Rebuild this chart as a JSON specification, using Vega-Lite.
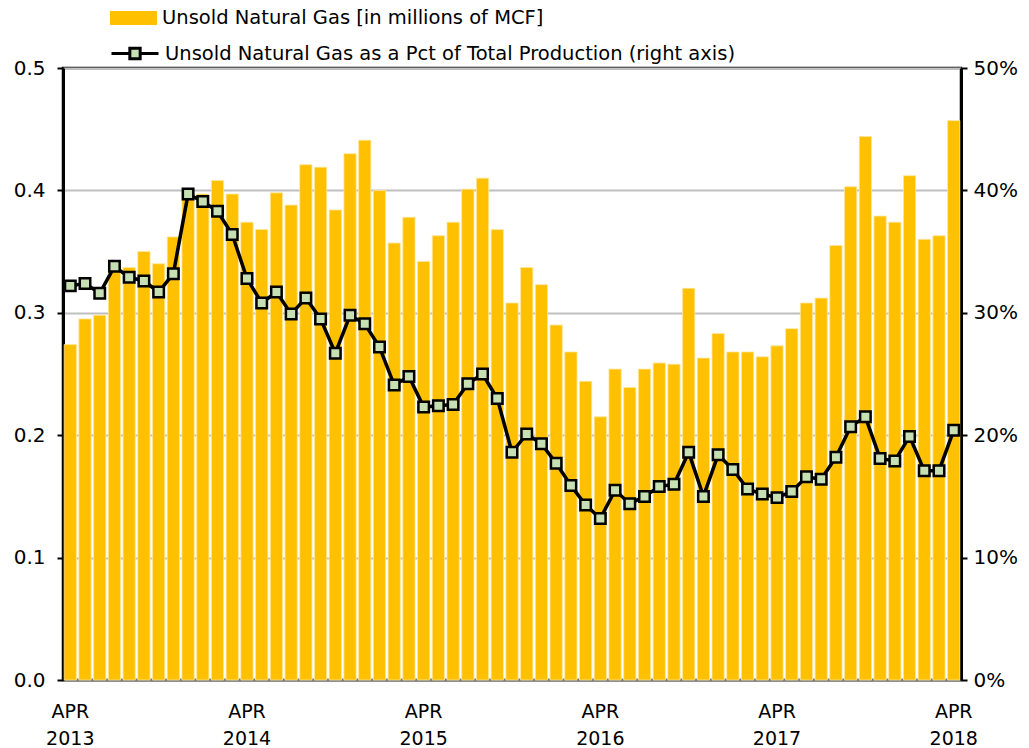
{
  "$schema": "https://vega.github.io/schema/vega-lite/v6.json",
  "width": 898,
  "height": 612,
  "autosize": {"type": "none"},
  "padding": {"left": 63, "top": 68, "right": 68, "bottom": 68},
  "background": "white",
  "config": {
    "font": "DejaVu Sans",
    "view": {"stroke": "black", "strokeWidth": 2.5},
    "axis": {"labelFont": "DejaVu Sans", "labelColor": "black"}
  },
  "data": {
    "values": [
      {"m": "2013-04", "gas": 0.274, "pct": 0.322},
      {"m": "2013-05", "gas": 0.295, "pct": 0.324},
      {"m": "2013-06", "gas": 0.298, "pct": 0.316},
      {"m": "2013-07", "gas": 0.338, "pct": 0.338},
      {"m": "2013-08", "gas": 0.337, "pct": 0.329},
      {"m": "2013-09", "gas": 0.350, "pct": 0.326},
      {"m": "2013-10", "gas": 0.340, "pct": 0.317},
      {"m": "2013-11", "gas": 0.362, "pct": 0.332},
      {"m": "2013-12", "gas": 0.398, "pct": 0.397},
      {"m": "2014-01", "gas": 0.397, "pct": 0.391},
      {"m": "2014-02", "gas": 0.408, "pct": 0.383},
      {"m": "2014-03", "gas": 0.397, "pct": 0.364},
      {"m": "2014-04", "gas": 0.374, "pct": 0.328},
      {"m": "2014-05", "gas": 0.368, "pct": 0.308},
      {"m": "2014-06", "gas": 0.398, "pct": 0.317},
      {"m": "2014-07", "gas": 0.388, "pct": 0.299},
      {"m": "2014-08", "gas": 0.421, "pct": 0.312},
      {"m": "2014-09", "gas": 0.419, "pct": 0.295},
      {"m": "2014-10", "gas": 0.384, "pct": 0.267},
      {"m": "2014-11", "gas": 0.430, "pct": 0.298},
      {"m": "2014-12", "gas": 0.441, "pct": 0.291},
      {"m": "2015-01", "gas": 0.400, "pct": 0.272},
      {"m": "2015-02", "gas": 0.357, "pct": 0.241},
      {"m": "2015-03", "gas": 0.378, "pct": 0.248},
      {"m": "2015-04", "gas": 0.342, "pct": 0.223},
      {"m": "2015-05", "gas": 0.363, "pct": 0.224},
      {"m": "2015-06", "gas": 0.374, "pct": 0.225},
      {"m": "2015-07", "gas": 0.401, "pct": 0.242},
      {"m": "2015-08", "gas": 0.410, "pct": 0.250},
      {"m": "2015-09", "gas": 0.368, "pct": 0.230},
      {"m": "2015-10", "gas": 0.308, "pct": 0.186},
      {"m": "2015-11", "gas": 0.337, "pct": 0.201},
      {"m": "2015-12", "gas": 0.323, "pct": 0.193},
      {"m": "2016-01", "gas": 0.290, "pct": 0.177},
      {"m": "2016-02", "gas": 0.268, "pct": 0.159},
      {"m": "2016-03", "gas": 0.244, "pct": 0.143},
      {"m": "2016-04", "gas": 0.215, "pct": 0.132},
      {"m": "2016-05", "gas": 0.254, "pct": 0.155},
      {"m": "2016-06", "gas": 0.239, "pct": 0.144},
      {"m": "2016-07", "gas": 0.254, "pct": 0.150},
      {"m": "2016-08", "gas": 0.259, "pct": 0.158},
      {"m": "2016-09", "gas": 0.258, "pct": 0.160},
      {"m": "2016-10", "gas": 0.320, "pct": 0.186},
      {"m": "2016-11", "gas": 0.263, "pct": 0.150},
      {"m": "2016-12", "gas": 0.283, "pct": 0.184},
      {"m": "2017-01", "gas": 0.268, "pct": 0.172},
      {"m": "2017-02", "gas": 0.268, "pct": 0.156},
      {"m": "2017-03", "gas": 0.264, "pct": 0.152},
      {"m": "2017-04", "gas": 0.273, "pct": 0.149},
      {"m": "2017-05", "gas": 0.287, "pct": 0.154},
      {"m": "2017-06", "gas": 0.308, "pct": 0.166},
      {"m": "2017-07", "gas": 0.312, "pct": 0.164},
      {"m": "2017-08", "gas": 0.355, "pct": 0.182},
      {"m": "2017-09", "gas": 0.403, "pct": 0.207},
      {"m": "2017-10", "gas": 0.444, "pct": 0.215},
      {"m": "2017-11", "gas": 0.379, "pct": 0.181},
      {"m": "2017-12", "gas": 0.374, "pct": 0.179},
      {"m": "2018-01", "gas": 0.412, "pct": 0.199},
      {"m": "2018-02", "gas": 0.360, "pct": 0.171},
      {"m": "2018-03", "gas": 0.363, "pct": 0.171},
      {"m": "2018-04", "gas": 0.457, "pct": 0.204}
    ]
  },
  "encoding": {
    "x": {
      "field": "m",
      "type": "ordinal",
      "scale": {"paddingInner": 0.17, "paddingOuter": 0.08},
      "axis": {
        "title": null,
        "labelAngle": 0,
        "ticks": false,
        "domain": true,
        "domainColor": "#7F7F7F",
        "domainWidth": 2.5,
        "labelFontSize": 19,
        "labelPadding": 22,
        "labelLineHeight": 27,
        "labelOverlap": false,
        "labelExpr": "substring(datum.value,5,7)=='04' ? ['APR', substring(datum.value,0,4)] : ''"
      }
    }
  },
  "layer": [
    {
      "mark": {"type": "bar", "stroke": "#FFE699", "strokeWidth": 0.8},
      "encoding": {
        "y": {
          "field": "gas",
          "type": "quantitative",
          "scale": {"domain": [0, 0.5], "nice": false},
          "axis": {
            "title": null,
            "values": [0, 0.1, 0.2, 0.3, 0.4, 0.5],
            "format": ".1f",
            "labelFontSize": 20,
            "labelPadding": 12,
            "tickColor": "black",
            "tickWidth": 2,
            "tickSize": 6,
            "domainColor": "black",
            "domainWidth": 3,
            "grid": true,
            "gridColor": "#BFBFBF",
            "gridWidth": 2
          }
        },
        "fill": {
          "datum": "Unsold Natural Gas [in millions of MCF]",
          "scale": {"range": ["#FFC000"]},
          "legend": {
            "title": null,
            "orient": "none",
            "legendX": 47,
            "legendY": -73.5,
            "padding": 0,
            "symbolType": "M-1,-0.3H1V0.3H-1Z",
            "symbolSize": 2209,
            "symbolStrokeWidth": 0,
            "labelOffset": 5,
            "labelFontSize": 19.5,
            "labelFont": "DejaVu Sans",
            "labelColor": "black",
            "labelLimit": 800
          }
        }
      }
    },
    {
      "mark": {
        "type": "line",
        "strokeWidth": 3.5,
        "point": {"shape": "square", "filled": true, "fill": "#C6E0B4", "stroke": "black", "strokeWidth": 2.5, "size": 110}
      },
      "encoding": {
        "y": {
          "field": "pct",
          "type": "quantitative",
          "scale": {"domain": [0, 0.5], "nice": false},
          "axis": {
            "title": null,
            "orient": "right",
            "values": [0, 0.1, 0.2, 0.3, 0.4, 0.5],
            "format": ".0%",
            "labelFontSize": 20,
            "labelPadding": 6,
            "tickColor": "black",
            "tickWidth": 2,
            "tickSize": 6,
            "domainColor": "black",
            "domainWidth": 3,
            "grid": false
          }
        },
        "stroke": {
          "datum": "Unsold Natural Gas as a Pct of Total Production (right axis)",
          "scale": {"range": ["black"]},
          "legend": {
            "title": null,
            "orient": "none",
            "legendX": 47,
            "legendY": -39.5,
            "padding": 0,
            "symbolType": "M-1,0H-0.22M0.22,0H1M-0.22,-0.22H0.22V0.22H-0.22Z",
            "symbolSize": 2209,
            "symbolStrokeWidth": 3,
            "labelOffset": 5,
            "labelFontSize": 19.5,
            "labelFont": "DejaVu Sans",
            "labelColor": "black",
            "labelLimit": 800,
            "encode": {"symbols": {"update": {"fill": {"value": "#C6E0B4"}, "stroke": {"value": "black"}, "strokeWidth": {"value": 3}}}}
          }
        }
      }
    }
  ],
  "resolve": {"scale": {"y": "independent", "fill": "independent", "stroke": "independent"}}
}
